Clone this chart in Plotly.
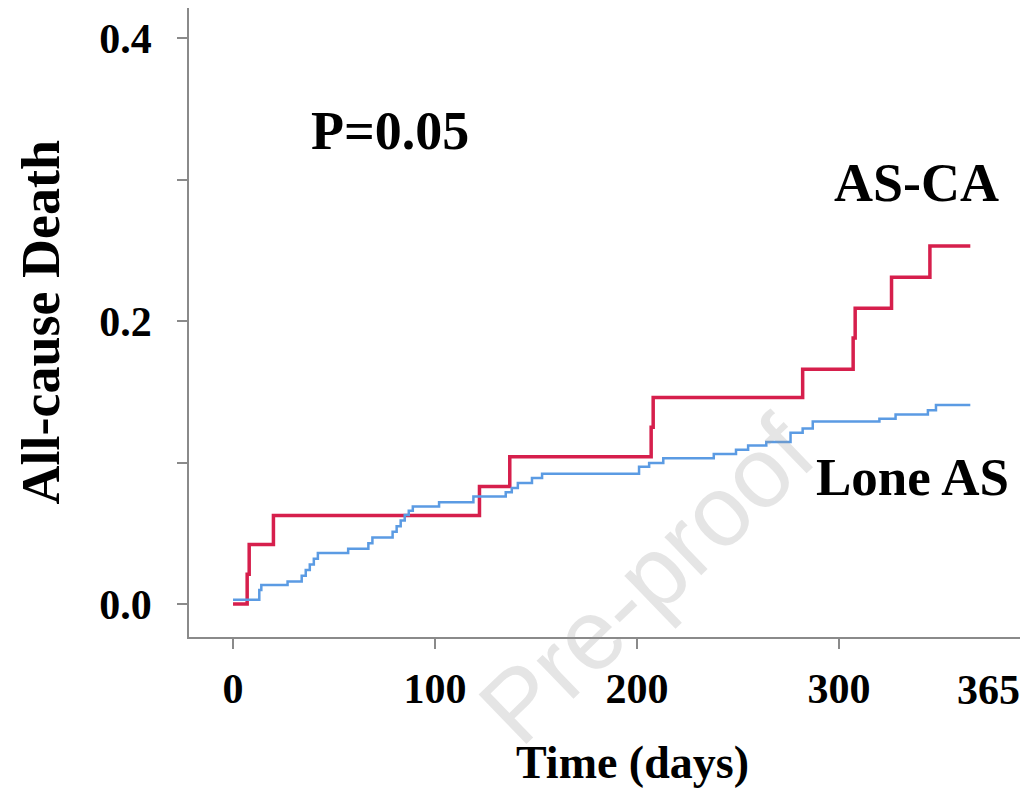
import plotly.graph_objects as go

# AS-CA cumulative all-cause death (Kaplan-Meier, step function)
asca_days = [0, 7, 8, 20, 122, 137, 207, 208, 282, 307, 308, 326, 345, 365]
asca_death = [0.0, 0.021, 0.042, 0.0625, 0.083, 0.104, 0.125, 0.146, 0.166,
              0.188, 0.209, 0.231, 0.253, 0.253]

# Lone AS cumulative all-cause death
lone_days = [0, 13, 14, 27, 34, 36, 38, 40, 42, 57, 67, 69, 79, 81, 83, 85, 87, 89,
             102, 119, 135, 138, 141, 148, 153, 201, 206, 213, 238, 249, 255, 264,
             276, 282, 287, 320, 328, 344, 348, 365]
lone_death = [0.003, 0.010, 0.0134, 0.016, 0.020, 0.024, 0.028, 0.032, 0.036, 0.039,
              0.043, 0.047, 0.051, 0.055, 0.059, 0.063, 0.066, 0.069, 0.072, 0.076,
              0.079, 0.082, 0.0855, 0.089, 0.092, 0.097, 0.0996, 0.103, 0.106, 0.109,
              0.112, 0.1145, 0.121, 0.124, 0.129, 0.131, 0.134, 0.137, 0.1406, 0.1406]

x_tickvals = [0, 100, 200, 300]
x_ticktext = ["0", "100", "200", "300"]
y_tickvals = [0.0, 0.1, 0.2, 0.3, 0.4]
y_ticktext = ["0.0", "", "0.2", "", "0.4"]

SERIF = "Liberation Serif"
AXIS_GRAY = "#8a8a8a"

fig = go.Figure()
fig.add_trace(go.Scatter(x=asca_days, y=asca_death, mode="lines", name="AS-CA",
                         line=dict(shape="hv", color="#D61F4C", width=3.5)))
fig.add_trace(go.Scatter(x=lone_days, y=lone_death, mode="lines", name="Lone AS",
                         line=dict(shape="hv", color="#5B9BE3", width=2.5)))

fig.update_layout(
    width=1023, height=790,
    margin=dict(l=189, r=3, t=8, b=153),
    paper_bgcolor="white", plot_bgcolor="white",
    showlegend=False,
    xaxis=dict(range=[-21.8, 389.6], showgrid=False, zeroline=False,
               showline=True, linecolor=AXIS_GRAY, linewidth=1.5,
               ticks="outside", ticklen=10, tickcolor=AXIS_GRAY, tickwidth=1.5,
               tickvals=x_tickvals, ticktext=x_ticktext, ticklabelstandoff=4,
               tickfont=dict(family=SERIF, size=42, color="black", weight="bold")),
    yaxis=dict(range=[-0.0233, 0.4212], showgrid=False, zeroline=False,
               showline=True, linecolor=AXIS_GRAY, linewidth=1.5,
               ticks="outside", ticklen=10, tickcolor=AXIS_GRAY, tickwidth=1.5,
               tickvals=y_tickvals, ticktext=y_ticktext, ticklabelstandoff=17,
               tickfont=dict(family=SERIF, size=42, color="black", weight="bold")),
)

bold = dict(family=SERIF, color="black", weight="bold")
annotations = [
    dict(text="365", x=374, xref="x", y=0, yref="paper", yanchor="middle",
         yshift=-53, showarrow=False, font=dict(size=42, **bold)),
    dict(text="Time (days)", x=0.534, y=-0.2003, xref="paper", yref="paper",
         xanchor="center", yanchor="middle", showarrow=False,
         font=dict(size=46, **bold)),
    dict(text="All-cause Death", x=-0.1793, y=0.5, xref="paper", yref="paper",
         xanchor="center", yanchor="middle", textangle=-90, showarrow=False,
         font=dict(size=54, **bold)),
    dict(text="P=0.05", x=0.2419, y=0.8045, xref="paper", yref="paper",
         xanchor="center", yanchor="middle", showarrow=False,
         font=dict(size=54, **bold)),
    dict(text="AS-CA", x=0.876, y=0.7218, xref="paper", yref="paper",
         xanchor="center", yanchor="middle", showarrow=False,
         font=dict(size=54, **bold)),
    dict(text="Lone AS", x=0.871, y=0.2544, xref="paper", yref="paper",
         xanchor="center", yanchor="middle", showarrow=False,
         font=dict(size=53, **bold)),
    dict(text="Pre-proof", x=0.55, y=0.09, xref="paper", yref="paper",
         xanchor="center", yanchor="middle", textangle=-44, showarrow=False,
         font=dict(family="Liberation Sans", size=100, color="rgba(150,150,150,0.25)")),
]
fig.update_layout(annotations=annotations)

fig.write_html("out.html", config={"displayModeBar": False},
               post_script="document.body.style.margin='0';")
